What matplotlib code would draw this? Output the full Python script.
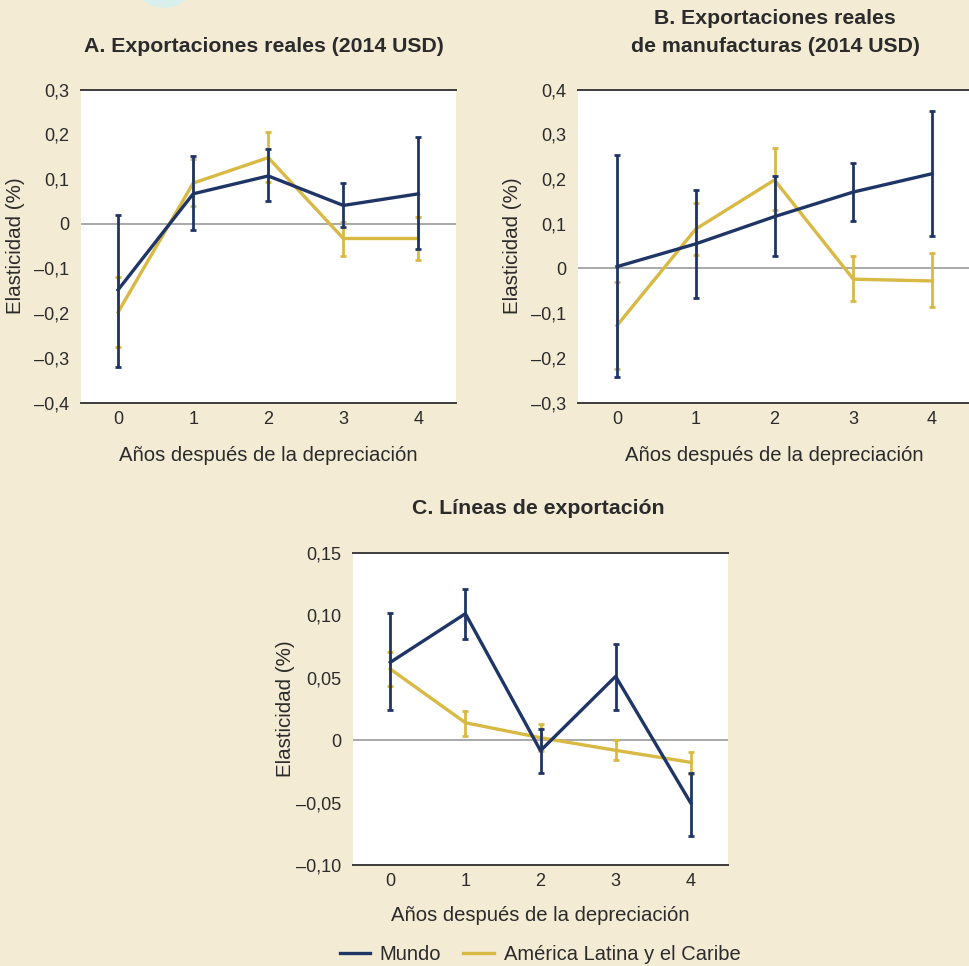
import matplotlib
matplotlib.use("Agg")
import matplotlib.pyplot as plt
import numpy as np
from matplotlib.patches import Circle
from matplotlib.lines import Line2D

plt.rcParams['font.family'] = ['Liberation Sans', 'DejaVu Sans']

years = [0, 1, 2, 3, 4]

# Panel A: Exportaciones reales
a_mundo = [-0.148, 0.067, 0.107, 0.041, 0.067]
a_mundo_lo = [-0.321, -0.015, 0.051, -0.007, -0.057]
a_mundo_hi = [0.020, 0.152, 0.168, 0.091, 0.195]
a_lac = [-0.198, 0.091, 0.148, -0.033, -0.033]
a_lac_lo = [-0.275, 0.039, 0.093, -0.072, -0.081]
a_lac_hi = [-0.120, 0.146, 0.205, 0.004, 0.015]
a_ticks = [0.3, 0.2, 0.1, 0.0, -0.1, -0.2, -0.3, -0.4]
a_ticklabels = ["0,3", "0,2", "0,1", "0", "–0,1", "–0,2", "–0,3", "–0,4"]

# Panel B: Exportaciones reales de manufacturas
b_mundo = [0.004, 0.055, 0.116, 0.171, 0.212]
b_mundo_lo = [-0.244, -0.067, 0.027, 0.107, 0.073]
b_mundo_hi = [0.253, 0.175, 0.206, 0.236, 0.353]
b_lac = [-0.128, 0.088, 0.198, -0.024, -0.028]
b_lac_lo = [-0.226, 0.029, 0.130, -0.072, -0.087]
b_lac_hi = [-0.031, 0.147, 0.270, 0.027, 0.034]
b_ticks = [0.4, 0.3, 0.2, 0.1, 0.0, -0.1, -0.2, -0.3]
b_ticklabels = ["0,4", "0,3", "0,2", "0,1", "0", "–0,1", "–0,2", "–0,3"]

# Panel C: Líneas de exportación
c_mundo = [0.0622, 0.1012, -0.0085, 0.051, -0.0504]
c_mundo_lo = [0.0243, 0.081, -0.026, 0.024, -0.077]
c_mundo_hi = [0.1015, 0.1207, 0.0091, 0.0772, -0.0264]
c_lac = [0.0569, 0.0139, 0.0019, -0.0082, -0.0178]
c_lac_lo = [0.0435, 0.0035, -0.0088, -0.0163, -0.0272]
c_lac_hi = [0.0705, 0.0235, 0.0126, 0.0, -0.0093]
c_ticks = [0.15, 0.10, 0.05, 0.0, -0.05, -0.10]
c_ticklabels = ["0,15", "0,10", "0,05", "0", "–0,05", "–0,10"]

titles_a = ["A. Exportaciones reales (2014 USD)"]
titles_b = ["B. Exportaciones reales", "de manufacturas (2014 USD)"]
titles_c = ["C. Líneas de exportación"]
xlabel = "Años después de la depreciación"
ylabel = "Elasticidad (%)"
series_names = ["Mundo", "América Latina y el Caribe"]

NAVY = "#1f3566"
GOLD = "#d8b944"
BG = "#f3ebd4"
TXT = "#2b2b2b"

W, H = 969, 966
fig = plt.figure(figsize=(W / 100, H / 100), dpi=100, facecolor=BG)

# faint decorative circle at the top
fig.patches.append(Circle((164 / W, 1 + 25 / H), 33 / W, transform=fig.transFigure,
                          facecolor="#d9efec", edgecolor="none", zorder=0))


def px(l, t, r, b):
    return [l / W, 1 - b / H, (r - l) / W, (b - t) / H]


def panel(rect, mundo, mlo, mhi, lac, llo, lhi, ticks, ticklabels, ylim,
          title_lines, title_x, title_ys, ylab_x, xlab_y):
    ax = fig.add_axes(rect)
    ax.set_facecolor("white")
    ax.axhline(0, color="#9a9a9a", lw=1.2, zorder=1)
    x = np.array(years)
    m = np.array(mundo); l = np.array(lac)
    ax.errorbar(x, l, yerr=[l - np.array(llo), np.array(lhi) - l], color=GOLD,
                lw=2.4, elinewidth=2.0, capsize=2.5, capthick=2.0, zorder=3)
    ax.errorbar(x, m, yerr=[m - np.array(mlo), np.array(mhi) - m], color=NAVY,
                lw=2.4, elinewidth=2.0, capsize=2.5, capthick=2.0, zorder=4)
    ax.set_xlim(-0.5, 4.5)
    ax.set_ylim(*ylim)
    ax.set_yticks(ticks)
    ax.set_yticklabels(ticklabels)
    ax.set_xticks(years)
    ax.tick_params(length=0, labelsize=13, colors=TXT, pad=6)
    ax.tick_params(axis="y", pad=8)
    for s in ["left", "right"]:
        ax.spines[s].set_visible(False)
    for s in ["top", "bottom"]:
        ax.spines[s].set_color("#3c3c3c")
        ax.spines[s].set_linewidth(1.4)
    ax.set_xlabel(xlabel, fontsize=14.6, color=TXT)
    ax.xaxis.label.set_va("center")
    ax.xaxis.set_label_coords(0.5, xlab_y)
    ax.set_ylabel(ylabel, fontsize=14.8, color=TXT)
    ax.yaxis.label.set_va("center")
    ax.yaxis.set_label_coords(ylab_x, 0.5)
    for line, ty in zip(title_lines, title_ys):
        fig.text(title_x / W, 1 - ty / H, line, ha="center", va="center",
                 fontsize=15.3, fontweight="bold", color=TXT)
    return ax


axA = panel(px(80.5, 89.7, 456, 402.5), a_mundo, a_mundo_lo, a_mundo_hi,
            a_lac, a_lac_lo, a_lac_hi, a_ticks, a_ticklabels, (-0.4, 0.3),
            titles_a, 264, [47], -0.174, -0.168)
axB = panel(px(577.5, 89.7, 971.5, 402.5), b_mundo, b_mundo_lo, b_mundo_hi,
            b_lac, b_lac_lo, b_lac_hi, b_ticks, b_ticklabels, (-0.3, 0.4),
            titles_b, 775, [18, 47], -0.166, -0.168)
axC = panel(px(352.7, 552.7, 728.3, 865), c_mundo, c_mundo_lo, c_mundo_hi,
            c_lac, c_lac_lo, c_lac_hi, c_ticks, c_ticklabels, (-0.10, 0.15),
            titles_c, 538, [508], -0.180, -0.163)

handles = [Line2D([], [], color=NAVY, lw=2.4), Line2D([], [], color=GOLD, lw=2.4)]
fig.legend(handles, series_names, loc="center", bbox_to_anchor=(540 / W, 1 - 955 / H),
           ncol=2, frameon=False, fontsize=14.5, handlelength=1.5, columnspacing=1.1,
           handletextpad=0.5, labelcolor=TXT, borderpad=0, borderaxespad=0)

fig.savefig("out.png", dpi=100, facecolor=BG)
